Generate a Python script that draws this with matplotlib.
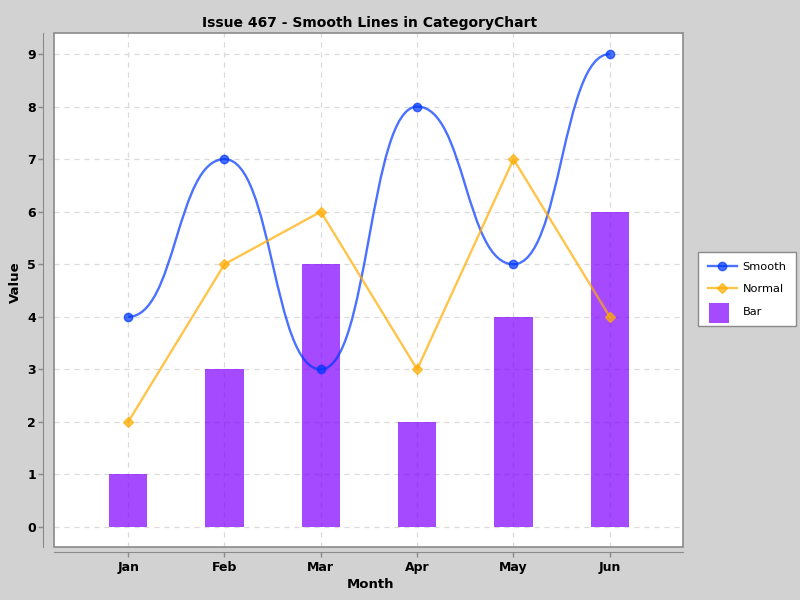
import matplotlib.pyplot as plt
import numpy as np
from matplotlib.path import Path
from matplotlib.patches import PathPatch, Rectangle, Patch
from matplotlib.lines import Line2D
from matplotlib.legend_handler import HandlerPatch

months = ["Jan", "Feb", "Mar", "Apr", "May", "Jun"]
smoothValues = [4, 7, 3, 8, 5, 9]
normalValues = [2, 5, 6, 3, 7, 4]
barValues = [1, 3, 5, 2, 4, 6]

blue = (0 / 255, 55 / 255, 255 / 255, 0.71)
orange = (255 / 255, 172 / 255, 0 / 255, 0.71)
purple = (128 / 255, 0 / 255, 255 / 255, 0.71)
bgGray = "#d2d2d2"
gridGray = "#d9d9d9"
axisGray = "#8a8a8a"
px = 72 / 100  # points per pixel


def smoothPath(xs, ys):
    # cubic bezier with horizontal tangents at each point
    verts = [(xs[0], ys[0])]
    codes = [Path.MOVETO]
    for i in range(len(xs) - 1):
        dx = (xs[i + 1] - xs[i]) / 2.0
        verts += [(xs[i] + dx, ys[i]), (xs[i + 1] - dx, ys[i + 1]), (xs[i + 1], ys[i + 1])]
        codes += [Path.CURVE4] * 3
    return Path(verts, codes)


def squarePatch(legend, orig_handle, xdescent, ydescent, width, height, fontsize):
    s = 20 * px
    return Rectangle((-xdescent + 1, -ydescent + height / 2 - s / 2 - 1.5), s, s)


fig = plt.figure(figsize=(8, 6), dpi=100, facecolor=bgGray)
ax = fig.add_axes([54 / 800, 1 - 547 / 600, 629 / 800, 514 / 600])
ax.set_facecolor("white")

x = np.arange(len(months))

ax.bar(x, barValues, width=0.4, color=purple, zorder=2)
ax.add_patch(PathPatch(smoothPath(x, smoothValues), facecolor="none", edgecolor=blue, lw=1.7, zorder=3))
ax.plot(x, smoothValues, linestyle="none", marker="o", markersize=6, color=blue, zorder=4)
ax.plot(x, normalValues, color=orange, lw=1.7, marker="D", markersize=5, zorder=3)

ax.set_xlim(-0.77, 5.76)
ax.set_ylim(-0.38, 9.40)
ax.set_xticks(x)
ax.set_xticklabels(months)
ax.set_yticks(range(0, 10))

ax.grid(True, color=gridGray, linestyle=(0, (4, 4)), lw=0.9, zorder=0)
ax.set_axisbelow(True)

for side in ["top", "right"]:
    ax.spines[side].set_visible(False)
ax.spines["left"].set_position(("outward", 11 * px))
ax.spines["bottom"].set_position(("outward", 5 * px))
ax.spines["left"].set_color(axisGray)
ax.spines["bottom"].set_color(axisGray)
ax.add_patch(Rectangle((0, 0), 1, 1, transform=ax.transAxes, fill=False,
                       edgecolor=axisGray, lw=1.2, zorder=5, clip_on=False))

ax.tick_params(axis="both", colors=axisGray, length=5 * px, width=1, labelcolor="black", labelsize=9)
ax.tick_params(axis="x", pad=4 * px)
ax.tick_params(axis="y", pad=2 * px)
for lbl in ax.get_xticklabels() + ax.get_yticklabels():
    lbl.set_fontweight("bold")

fig.text(370 / 800, 1 - 585 / 600, "Month", fontsize=9.5, fontweight="bold", ha="center", va="center")
fig.text(15 / 800, 1 - 282 / 600, "Value", fontsize=9.5, fontweight="bold", ha="center", va="center", rotation=90)
fig.text(370 / 800, 1 - 23 / 600, "Issue 467 - Smooth Lines in CategoryChart",
         fontsize=10, fontweight="bold", ha="center", va="center")

handles = [
    Line2D([], [], color=blue, lw=1.7, marker="o", markersize=6),
    Line2D([], [], color=orange, lw=1.7, marker="D", markersize=5),
    Patch(facecolor=purple, edgecolor="none"),
]
leg = ax.legend(handles, ["Smooth", "Normal", "Bar"], loc="upper left",
                bbox_to_anchor=(698 / 800, 1 - 252 / 600), bbox_transform=fig.transFigure,
                fontsize=8.2, frameon=True, fancybox=False, edgecolor=axisGray, facecolor="white",
                framealpha=1, handlelength=2.6, handleheight=0.7, labelspacing=1.1,
                borderpad=0.85, borderaxespad=0, handletextpad=0.45,
                handler_map={Patch: HandlerPatch(patch_func=squarePatch)})
leg.get_frame().set_linewidth(1)

fig.savefig("out.png", dpi=100, facecolor=bgGray)
